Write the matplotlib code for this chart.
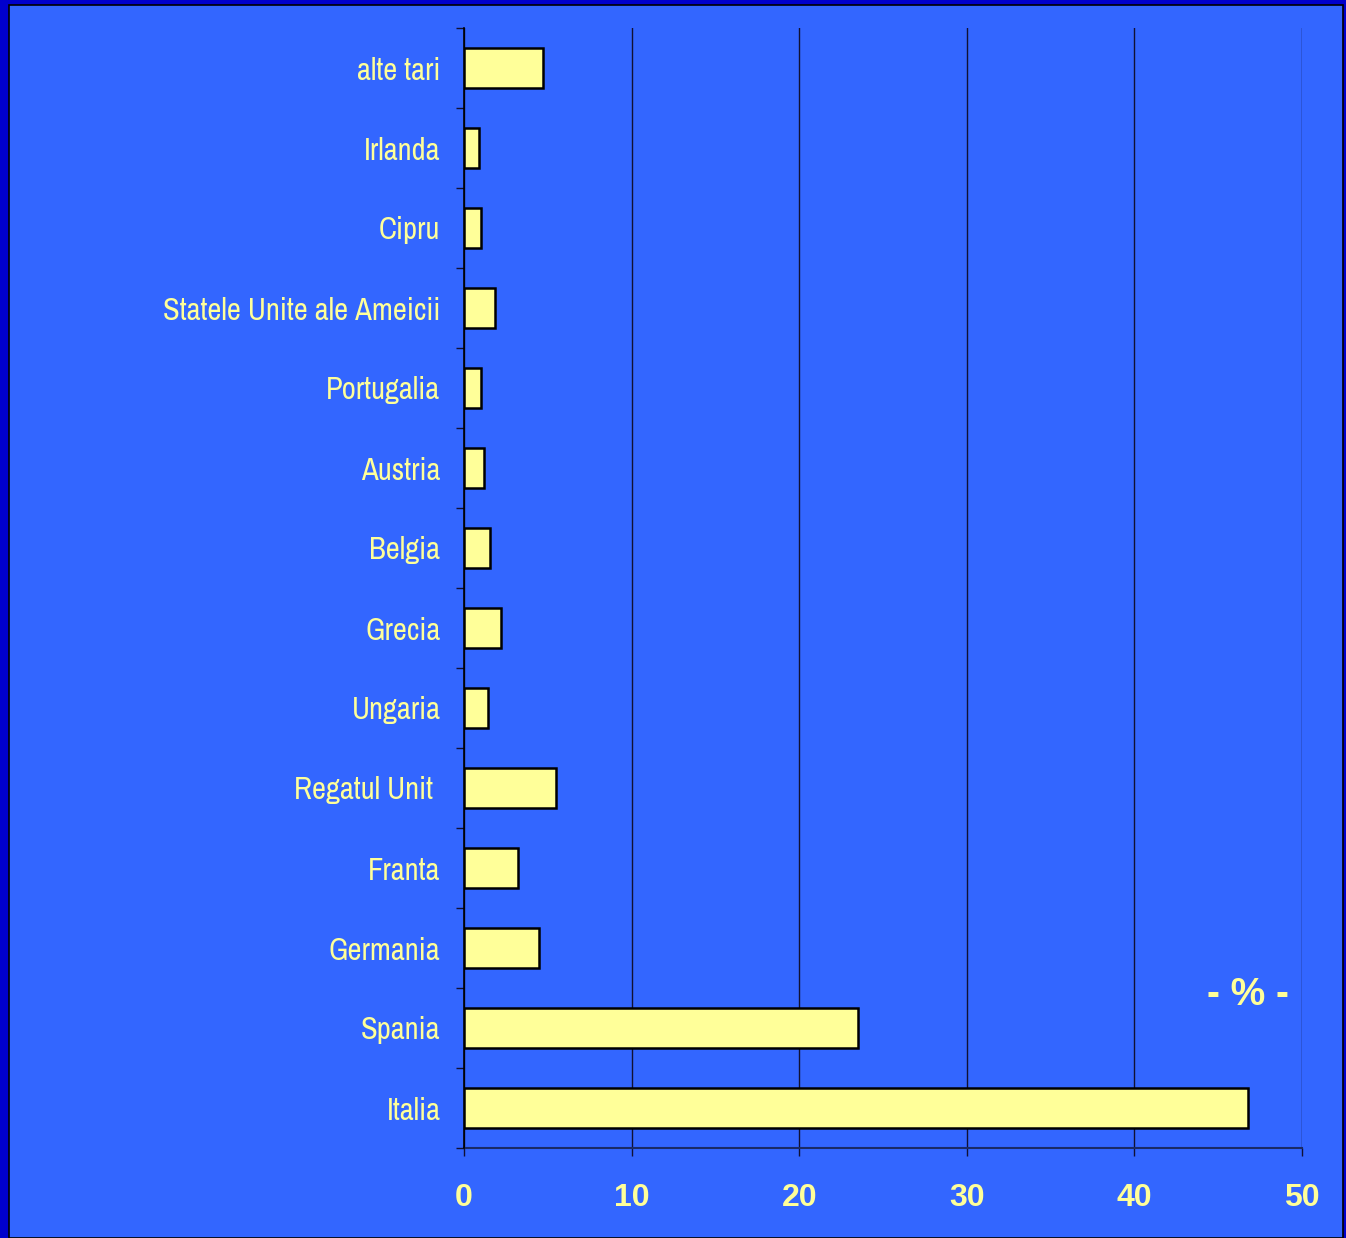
import matplotlib
matplotlib.use("Agg")
import matplotlib.pyplot as plt
from matplotlib.patches import Rectangle
from matplotlib.ticker import FixedLocator

categories = ["Italia", "Spania", "Germania", "Franta", "Regatul Unit ", "Ungaria",
              "Grecia", "Belgia", "Austria", "Portugalia", "Statele Unite ale Ameicii",
              "Cipru", "Irlanda", "alte tari"]
values = [46.8, 23.5, 4.5, 3.2, 5.5, 1.45, 2.2, 1.55, 1.2, 1.0, 1.85, 1.0, 0.9, 4.7]
xticks = [0, 10, 20, 30, 40, 50]

W, H = 1346, 1238
BG = "#3366FF"
YEL = "#FFFF99"

fig = plt.figure(figsize=(W / 100, H / 100), dpi=100)
fig.patch.set_facecolor("#0000CC")
fig.patches.append(Rectangle((9 / W, 0), (1343 - 9) / W, (H - 5) / H,
                             transform=fig.transFigure, facecolor=BG,
                             edgecolor="black", linewidth=1.2, zorder=-10))

ax = fig.add_axes([464 / W, 1 - 1148 / H, (1302 - 464) / W, (1148 - 28) / H])
ax.set_facecolor("none")
ax.set_zorder(5)

ypos = list(range(len(categories)))
ax.barh(ypos, values, height=0.51, color=YEL, edgecolor="black", linewidth=1.8, zorder=3)

ax.set_xlim(0, 50)
ax.set_ylim(-0.5, len(categories) - 0.5)
ax.set_xticks(xticks)
ax.set_xticklabels([str(t) for t in xticks])
ax.set_yticks(ypos)
ax.set_yticklabels(categories)
ax.yaxis.set_minor_locator(FixedLocator([i - 0.5 for i in range(len(categories) + 1)]))

ax.tick_params(axis="y", which="major", length=0, pad=17, labelcolor=YEL, labelsize=22)
ax.tick_params(axis="y", which="minor", length=6, width=1, color="#111133", direction="out")
ax.tick_params(axis="x", length=6, width=1, color="#111133", pad=19, labelcolor=YEL, labelsize=23)

for lab in ax.get_yticklabels():
    lab.set_family(["Archivo Narrow", "Liberation Sans", "DejaVu Sans"])
    lab.set_fontweight("normal")
for lab in ax.get_xticklabels():
    lab.set_family(["Liberation Sans", "DejaVu Sans"])
    lab.set_fontweight("bold")

ax.grid(axis="x", color="#111133", linewidth=1, zorder=1)
ax.set_axisbelow(True)
for s in ["top", "right"]:
    ax.spines[s].set_visible(False)
ax.spines["left"].set_color("black")
ax.spines["left"].set_linewidth(1.2)
ax.spines["left"].set_zorder(4)
ax.spines["bottom"].set_color("#1a2a66")
ax.spines["bottom"].set_linewidth(1.5)

fig.text(1248 / W, 1 - 995 / H, "- % -", color=YEL, fontsize=28, fontweight="bold",
         family=["Liberation Sans", "DejaVu Sans"], ha="center", va="center")

fig.savefig("out.png", dpi=100, facecolor=fig.get_facecolor())
